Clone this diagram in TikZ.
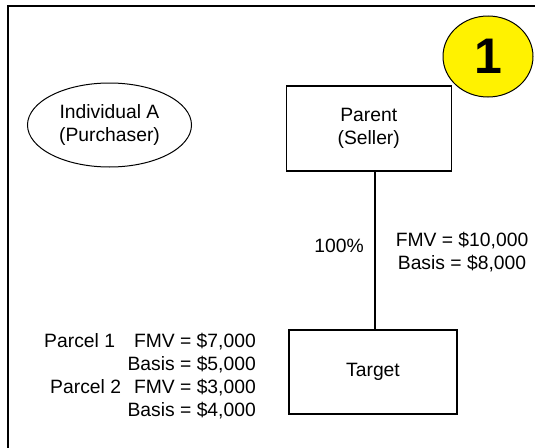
\documentclass[tikz,border=0pt]{standalone}
\usepackage{fontspec}
\setmainfont{Liberation Sans}
\usetikzlibrary{shapes.geometric}
\begin{document}
\begin{tikzpicture}[x=1pt,y=-1pt,
  lbl/.style={font=\fontsize{19.3}{23.2}\selectfont, inner sep=0pt},
  entity/.style={draw, line width=1.3pt, lbl, align=center},
]
\useasboundingbox (0,0) rectangle (535,447);
\fill[white] (0,0) rectangle (535,447);
\draw[line width=2pt] (7.5,5.5) rectangle (545,460);
% numbered badge
\node[ellipse, draw, line width=1pt, fill=yellow, minimum width=90pt, minimum height=81pt, inner sep=0pt,
  font=\fontsize{50}{50}\selectfont\bfseries] (badge) at (488,56.5) {1};
% purchaser
\node[ellipse, draw, line width=1pt, minimum width=164pt, minimum height=84pt, lbl, align=center] (indiv) at (109.5,125) {Individual A\\(Purchaser)};
% parent
\node[entity, minimum width=165pt, minimum height=85pt] (parent) at (368.75,128.5) {Parent\\(Seller)};
% target
\node[entity, minimum width=168pt, minimum height=84pt] (target) at (373,372) {Target};
\coordinate (lx) at (375,0);
\draw[line width=2pt] (parent.south -| lx) -- (target.north -| lx);
\node[lbl] (pct) at (339,246) {100\%};
\node[lbl, align=center] (fmv) at (462,252) {FMV = \$10,000\\Basis = \$8,000};
\node[lbl, align=right, anchor=east] (parcels) at (256,376) {Parcel 1\hspace{19pt}FMV = \$7,000\\Basis = \$5,000\\Parcel 2\hspace{13pt}FMV = \$3,000\\Basis = \$4,000};
\end{tikzpicture}
\end{document}
